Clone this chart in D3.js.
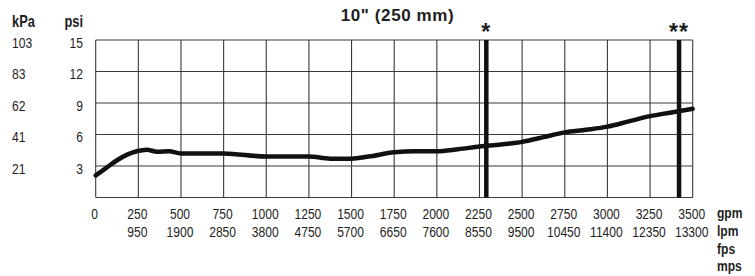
<!DOCTYPE html>
<html>
<head>
<meta charset="utf-8">
<script src="https://cdn.jsdelivr.net/npm/d3@7"></script>
<style>
  body { margin: 0; background: #fff; }
  text { font-family: "Liberation Sans", Arial, sans-serif; fill: #1e1e1e; }
</style>
</head>
<body>
<div id="chart"></div>
<script>
var width = 755;
var height = 276;

// flow (gpm) vs pressure loss (psi)
var gpm = [0, 60, 130, 240, 300, 360, 430, 500, 750, 1000, 1250, 1375, 1500, 1600, 1750, 1875, 2000, 2125, 2250, 2375, 2500, 2625, 2750, 2875, 3000, 3125, 3250, 3375, 3500];
var psi = [2.1, 2.8, 3.6, 4.4, 4.55, 4.35, 4.4, 4.2, 4.2, 3.9, 3.9, 3.7, 3.7, 3.9, 4.3, 4.4, 4.4, 4.6, 4.85, 5.05, 5.3, 5.75, 6.2, 6.45, 6.75, 7.25, 7.75, 8.1, 8.45];

var gpmTicks = [0, 250, 500, 750, 1000, 1250, 1500, 1750, 2000, 2250, 2500, 2750, 3000, 3250, 3500];
var lpmTicks = ["", "950", "1900", "2850", "3800", "4750", "5700", "6650", "7600", "8550", "9500", "10450", "11400", "12350", "13300"];
var psiTicks = [3, 6, 9, 12, 15];
var kpaTicks = ["21", "41", "62", "83", "103"];
var unitLabels = ["gpm", "lpm", "fps", "mps"];

var markers = [2290, 3420];
var markerLabels = ["*", "**"];
var title = "10\" (250 mm)";

var narrow = 0.78; // condensed look, no narrow font installed

var svg = d3.select("#chart")
            .append("svg")
            .attr("width", width)
            .attr("height", height);

var x = d3.scaleLinear()
          .domain([0, 3500])
          .range([95.7, 692.7]);

var y = d3.scaleLinear()
          .domain([0, 15])
          .range([197.5, 40]);

function place(px, py) {
  return "translate(" + px + "," + py + ") scale(" + narrow + ",1)";
}

// grid
svg.append("g")
   .selectAll("line")
   .data(gpmTicks)
   .enter().append("line")
     .attr("x1", function(d){ return x(d); })
     .attr("x2", function(d){ return x(d); })
     .attr("y1", y(0))
     .attr("y2", y(15))
     .attr("stroke", "#3a3a3a")
     .attr("stroke-width", 1.1);

svg.append("g")
   .selectAll("line")
   .data([0].concat(psiTicks))
   .enter().append("line")
     .attr("x1", x(0))
     .attr("x2", x(3500))
     .attr("y1", function(d){ return y(d); })
     .attr("y2", function(d){ return y(d); })
     .attr("stroke", "#3a3a3a")
     .attr("stroke-width", 1.1);

// marker lines
svg.append("g")
   .selectAll("line")
   .data(markers)
   .enter().append("line")
     .attr("x1", function(d){ return x(d); })
     .attr("x2", function(d){ return x(d); })
     .attr("y1", y(0))
     .attr("y2", y(15))
     .attr("stroke", "#111")
     .attr("stroke-width", 4.5);

svg.append("g")
   .selectAll("text")
   .data(markers)
   .enter().append("text")
     .attr("x", function(d){ return x(d); })
     .attr("y", 39.5)
     .attr("text-anchor", "middle")
     .style("font-weight", "bold")
     .style("font-size", "23px")
     .style("letter-spacing", "1px")
     .text(function(d, i){ return markerLabels[i]; });

// curve
var data = gpm.map(function(g, i){ return {x: g, y: psi[i]}; });

var line = d3.line()
             .x(function(d){ return x(d.x); })
             .y(function(d){ return y(d.y); })
             .curve(d3.curveMonotoneX);

svg.append("path")
   .datum(data)
   .attr("d", line)
   .attr("fill", "none")
   .attr("stroke", "#111")
   .attr("stroke-width", 4.5)
   .attr("stroke-linejoin", "round")
   .attr("stroke-linecap", "round");

// x labels
var xl = svg.append("g").style("font-size", "15.5px");
xl.selectAll("text.g")
  .data(gpmTicks)
  .enter().append("text")
    .attr("class", "g")
    .attr("transform", function(d){ return place(x(d) - 1, 218.5); })
    .attr("text-anchor", "middle")
    .text(function(d){ return d; });

xl.selectAll("text.l")
  .data(gpmTicks)
  .enter().append("text")
    .attr("class", "l")
    .attr("transform", function(d){ return place(x(d) - 1, 236.5); })
    .attr("text-anchor", "middle")
    .text(function(d, i){ return lpmTicks[i]; });

svg.append("g")
   .selectAll("text")
   .data(unitLabels)
   .enter().append("text")
     .attr("transform", function(d, i){ return place(717, 218 + i * 17.8); })
     .style("font-size", "15.5px")
     .style("font-weight", "bold")
     .text(function(d){ return d; });

// y labels
var yl = svg.append("g").style("font-size", "15.5px");
yl.selectAll("text.p")
  .data(psiTicks)
  .enter().append("text")
    .attr("class", "p")
    .attr("transform", function(d){ return place(83, y(d) + 7.8); })
    .attr("text-anchor", "end")
    .text(function(d){ return d; });

yl.selectAll("text.k")
  .data(psiTicks)
  .enter().append("text")
    .attr("class", "k")
    .attr("transform", function(d){ return place(12, y(d) + 7.8); })
    .text(function(d, i){ return kpaTicks[i]; });

svg.append("text")
   .attr("transform", place(12, 26.5))
   .style("font-size", "16.5px")
   .style("font-weight", "bold")
   .text("kPa");

svg.append("text")
   .attr("transform", place(83, 26.5))
   .attr("text-anchor", "end")
   .style("font-size", "16.5px")
   .style("font-weight", "bold")
   .text("psi");

// title
svg.append("text")
   .attr("x", 397.5)
   .attr("y", 20.5)
   .attr("text-anchor", "middle")
   .style("font-size", "17px")
   .style("font-weight", "bold")
   .style("letter-spacing", "0.6px")
   .text(title);
</script>
</body>
</html>
